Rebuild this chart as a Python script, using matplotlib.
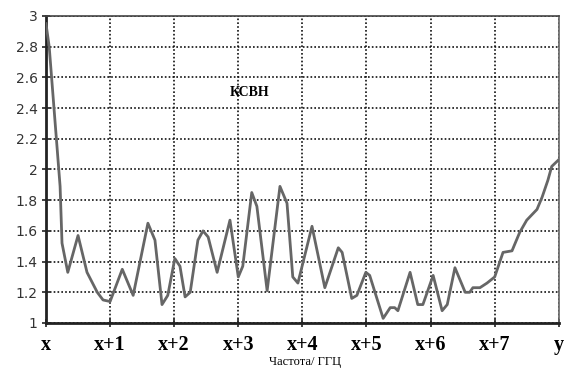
import matplotlib
matplotlib.use('Agg')
from matplotlib import pyplot as plt

# frequency position (in units of band steps) and VSWR values
freq = [0.0, 0.05, 0.22, 0.25, 0.34, 0.50, 0.64, 0.80, 0.89, 1.00,
        1.19, 1.36, 1.59, 1.70, 1.81, 1.90, 2.01, 2.09, 2.17, 2.25,
        2.37, 2.45, 2.53, 2.67, 2.87, 3.00, 3.07, 3.21, 3.29, 3.45,
        3.65, 3.76, 3.85, 3.93, 4.15, 4.35, 4.56, 4.62, 4.77, 4.85,
        4.99, 5.05, 5.26, 5.37, 5.44, 5.49, 5.68, 5.80, 5.88, 6.04,
        6.18, 6.26, 6.38, 6.54, 6.61, 6.66, 6.77, 6.88, 7.00, 7.13,
        7.27, 7.39, 7.50, 7.66, 7.74, 7.83, 7.89, 7.99]
vswr = [2.95, 2.80, 1.89, 1.52, 1.33, 1.57, 1.33, 1.20, 1.15, 1.14,
        1.35, 1.18, 1.65, 1.54, 1.12, 1.18, 1.42, 1.37, 1.17, 1.20,
        1.54, 1.60, 1.56, 1.33, 1.67, 1.30, 1.37, 1.85, 1.76, 1.21,
        1.89, 1.78, 1.30, 1.26, 1.63, 1.23, 1.49, 1.46, 1.16, 1.18,
        1.33, 1.31, 1.03, 1.10, 1.10, 1.08, 1.33, 1.12, 1.12, 1.31,
        1.08, 1.12, 1.36, 1.20, 1.20, 1.23, 1.23, 1.26, 1.30, 1.46,
        1.47, 1.59, 1.67, 1.74, 1.82, 1.93, 2.02, 2.06]
xticks = [0, 1, 2, 3, 4, 5, 6, 7, 8]
xlabels = ['x', 'x+1', 'x+2', 'x+3', 'x+4', 'x+5', 'x+6', 'x+7', 'y']
yticks = [1, 1.2, 1.4, 1.6, 1.8, 2, 2.2, 2.4, 2.6, 2.8, 3]
ylabels = ['1', '1.2', '1.4', '1.6', '1.8', '2', '2.2', '2.4', '2.6', '2.8', '3']

fig = plt.figure(figsize=(5.65, 3.71), dpi=100)
ax = fig.add_axes([0.0814, 0.1294, 0.9076, 0.8275])

ax.plot(freq, vswr, color='#666666', linewidth=2.0, zorder=3)

ax.set_xlim(0, 8)
ax.set_ylim(1, 3)
ax.set_xticks(xticks)
ax.set_xticklabels(xlabels, fontfamily='Liberation Serif', fontweight='bold', fontsize=14.5)
ax.set_yticks(yticks)
ax.set_yticklabels(ylabels, fontfamily='DejaVu Sans', fontsize=10, color='#333333')
ax.tick_params(axis='both', direction='inout', length=6, width=1.2, color='#222222')
ax.tick_params(axis='x', pad=6)
ax.tick_params(axis='y', pad=3)
ax.grid(True, color='#111111', linestyle=(0, (1.0, 1.3)), linewidth=1.2)

ax.spines['left'].set_linewidth(2.0)
ax.spines['left'].set_color('#222222')
ax.spines['bottom'].set_linewidth(2.0)
ax.spines['bottom'].set_color('#222222')
ax.spines['top'].set_linewidth(1.2)
ax.spines['top'].set_color('#444444')
ax.spines['right'].set_linewidth(1.2)
ax.spines['right'].set_color('#666666')

ax.text(3.18, 2.5, 'КСВН', fontfamily='Liberation Serif', fontweight='bold',
        fontsize=10, ha='center', va='center')
fig.text(305 / 565, 1 - 362 / 371, 'Частота/ ГГЦ', fontfamily='Liberation Serif',
         fontsize=9, ha='center', va='center')

fig.savefig('out.png', dpi=100)
plt.close(fig)
